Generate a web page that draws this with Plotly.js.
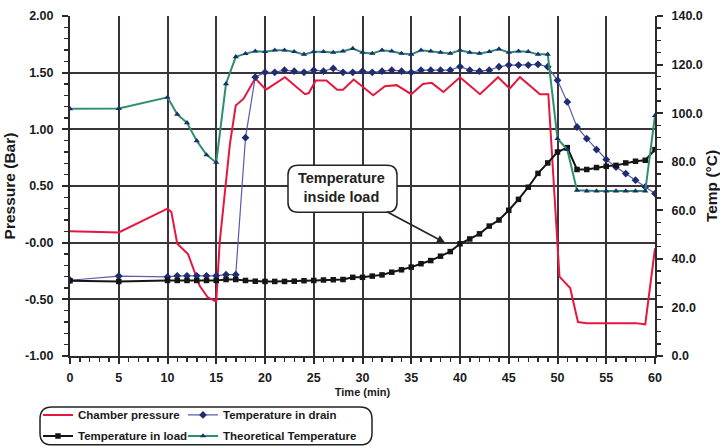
<!DOCTYPE html>
<html>
<head>
<meta charset="utf-8">
<script src="https://cdn.plot.ly/plotly-3.0.1.min.js"></script>
<style>
  html, body { margin: 0; padding: 0; background: #ffffff; }
  #chart { width: 720px; height: 446px; }
</style>
</head>
<body>
<div id="chart"></div>
<script>
// ---------- data ----------
const pressTime = [0,5,10,10.4,11.0,12.1,13.3,14.1,15.0,15.35,16.4,17.0,17.8,19.0,20.1,22.05,24.1,24.5,25.2,26.3,27.4,28.0,29.1,31.1,32.3,33.5,35.0,36.2,37.1,38.3,40.0,42.05,43.9,45.1,46.15,48.2,49.06,50.2,51.3,52.1,53,54,55,56,57,58,59.0,60];
const chamberPressure = [0.10,0.09,0.30,0.27,-0.01,-0.10,-0.38,-0.48,-0.52,0.00,0.87,1.21,1.27,1.45,1.35,1.46,1.31,1.32,1.43,1.43,1.35,1.35,1.44,1.30,1.38,1.39,1.31,1.40,1.41,1.33,1.46,1.31,1.46,1.36,1.46,1.31,1.31,-0.30,-0.40,-0.70,-0.71,-0.71,-0.71,-0.71,-0.71,-0.71,-0.72,-0.05];

const tempTime = [0,5,10,11,12,13,14,15,16,17,18,19,20,21,22,23,24,25,26,27,28,29,30,31,32,33,34,35,36,37,38,39,40,41,42,43,44,45,46,47,48,49,50,51,52,53,54,55,56,57,58,59,60];
const tempDrain = [31.2,32.9,32.6,33.0,33.0,33.0,33.0,33.0,33.5,33.5,89.9,114.8,116.8,116.8,117.7,117.3,116.8,117.7,117.3,118.4,116.8,116.8,117.3,116.8,117.3,117.7,117.3,116.8,117.7,117.7,117.7,117.7,119.1,117.7,117.3,117.7,119.1,119.8,119.8,119.8,120.1,119.1,113.5,104.6,94.3,89.5,85.0,80.9,77.8,75.1,72.4,69.6,66.9];
const tempLoad = [31.0,30.7,31.1,31.1,31.1,31.1,31.1,31.1,31.5,31.5,31.1,30.8,30.7,30.7,30.7,30.8,31.0,31.1,31.3,31.4,31.5,32.4,32.4,32.9,33.4,34.5,35.5,36.6,38.0,39.3,41.1,43.0,46.2,48.2,50.3,53.5,56.0,60.0,64.5,69.5,75.2,79.5,84.0,85.8,76.8,76.8,77.6,78.1,78.5,79.5,80.2,80.6,85.0];
const tempTheoretical = [101.8,101.9,106.5,99.5,96.0,88.6,82.8,79.7,112.1,123.2,124.5,125.5,125.3,125.9,125.9,125.3,124.2,125.3,125.3,125.0,125.5,126.6,125.0,124.6,125.9,125.5,124.6,124.2,125.9,125.5,125.0,124.6,125.9,125.0,124.6,125.3,126.4,125.0,125.5,125.3,124.2,124.2,89.5,85.0,68.2,67.9,67.9,67.9,67.9,67.9,67.9,67.9,99.0];

const seriesNames = ['Chamber pressure','Temperature in drain','Temperature in load','Theoretical Temperature'];
const pressureTickVals = [-1,-0.5,0,0.5,1,1.5,2];
const pressureTickText = ['-1.00','-0.50','-0.00','0.50','1.00','1.50','2.00'];
const annotationText = 'Temperature<br>inside load';
const annotationPoint = {x: 38.46, y: 0.0};

// ---------- geometry helpers (pixel -> paper) ----------
const PL = 70, PR = 655, PT = 15.5, PB = 356;
function pxX(x){ return (x - PL) / (PR - PL); }
function pxY(y){ return (PB - y) / (PB - PT); }
function roundRect(x0, y0, x1, y1, r){
  const P = (x, y) => pxX(x).toFixed(5) + ',' + pxY(y).toFixed(5);
  return 'M' + P(x0 + r, y0) + ' L' + P(x1 - r, y0) + ' Q' + P(x1, y0) + ' ' + P(x1, y0 + r) +
         ' L' + P(x1, y1 - r) + ' Q' + P(x1, y1) + ' ' + P(x1 - r, y1) +
         ' L' + P(x0 + r, y1) + ' Q' + P(x0, y1) + ' ' + P(x0, y1 - r) +
         ' L' + P(x0, y0 + r) + ' Q' + P(x0, y0) + ' ' + P(x0 + r, y0) + ' Z';
}

const FONT = '"Liberation Sans", Arial, sans-serif';
const GRID = '#3b333b';
const AXIS = '#2a2a2a';
const TXT = '#1a1a1a';

const traces = [
  {
    x: pressTime, y: chamberPressure, name: seriesNames[0], yaxis: 'y',
    mode: 'lines', line: {color: '#e5173f', width: 2}, legend: 'legend'
  },
  {
    x: tempTime, y: tempDrain, name: seriesNames[1], yaxis: 'y2',
    mode: 'lines+markers', line: {color: '#5a5cab', width: 1.2},
    marker: {symbol: 'diamond', size: 6, color: '#1e2c70'}, legend: 'legend2'
  },
  {
    x: tempTime, y: tempLoad, name: seriesNames[2], yaxis: 'y2',
    mode: 'lines+markers', line: {color: '#151515', width: 2},
    marker: {symbol: 'square', size: 5.5, color: '#151515'}, legend: 'legend3'
  },
  {
    x: tempTime, y: tempTheoretical, name: seriesNames[3], yaxis: 'y2',
    mode: 'lines+markers', line: {color: '#2e8f6e', width: 2},
    marker: {symbol: 'triangle-up', size: 5.5, color: '#1e2c70'}, legend: 'legend4'
  }
];

function legendAt(xpx, ypx){
  return {
    x: pxX(xpx), y: pxY(ypx), xanchor: 'left', yanchor: 'middle',
    orientation: 'h', bgcolor: 'rgba(0,0,0,0)', borderwidth: 0,
    font: {family: FONT, size: 11.5, color: TXT, weight: 'bold'}, itemwidth: 30
  };
}

const layout = {
  width: 720, height: 446,
  margin: {l: PL, r: 720 - PR, t: PT, b: 446 - PB, pad: 0, autoexpand: false},
  paper_bgcolor: '#ffffff', plot_bgcolor: '#ffffff',
  font: {family: FONT, size: 12, color: TXT},
  showlegend: true,
  legend: legendAt(38, 415),
  legend2: legendAt(183, 415),
  legend3: legendAt(38, 436),
  legend4: legendAt(183, 436),
  xaxis: {
    range: [0, 60], dtick: 5, tick0: 0,
    showgrid: true, gridcolor: GRID, gridwidth: 2,
    showline: true, linecolor: AXIS, linewidth: 2, zeroline: false,
    ticks: 'outside', ticklen: 6, tickwidth: 2, tickcolor: AXIS,
    minor: {dtick: 1, ticks: 'outside', ticklen: 4, tickwidth: 1.5, tickcolor: AXIS, showgrid: false},
    tickfont: {family: FONT, size: 12.5, color: TXT, weight: 'bold'}, ticklabelstandoff: 3,
    title: {text: 'Time (min)', font: {family: FONT, size: 11, color: TXT, weight: 'bold'}, standoff: 4}
  },
  yaxis: {
    range: [-1, 2], tickvals: pressureTickVals, ticktext: pressureTickText,
    showgrid: true, gridcolor: GRID, gridwidth: 2,
    showline: true, linecolor: AXIS, linewidth: 2, zeroline: false,
    ticks: 'outside', ticklen: 6, tickwidth: 2, tickcolor: AXIS,
    minor: {dtick: 0.1, ticks: 'outside', ticklen: 4, tickwidth: 1.5, tickcolor: AXIS, showgrid: false},
    tickfont: {family: FONT, size: 12.5, color: TXT, weight: 'bold'}, ticklabelstandoff: 6,
    title: {text: 'Pressure (Bar)', font: {family: FONT, size: 15.5, color: TXT, weight: 'bold'}, standoff: 6}
  },
  yaxis2: {
    range: [0, 140], dtick: 20, tick0: 0, tickformat: '.1f',
    overlaying: 'y', side: 'right', anchor: 'x',
    showgrid: false, showline: true, linecolor: AXIS, linewidth: 2, zeroline: false,
    ticks: 'outside', ticklen: 6, tickwidth: 2, tickcolor: AXIS,
    minor: {dtick: 5, ticks: 'outside', ticklen: 4, tickwidth: 1.5, tickcolor: AXIS, showgrid: false},
    tickfont: {family: FONT, size: 12.5, color: TXT, weight: 'bold'}, ticklabelstandoff: 6,
    title: {text: 'Temp (°C)', font: {family: FONT, size: 15.5, color: TXT, weight: 'bold'}, standoff: 4}
  },
  shapes: [
    {type: 'path', xref: 'paper', yref: 'paper', path: roundRect(40, 407, 372, 445, 12),
     line: {color: '#222', width: 1.5}, fillcolor: 'rgba(0,0,0,0)', layer: 'above'},
    {type: 'path', xref: 'paper', yref: 'paper', path: roundRect(288, 165, 397, 212, 10),
     line: {color: '#222', width: 1.5}, fillcolor: '#ffffff', layer: 'above'}
  ],
  annotations: [
    {
      x: annotationPoint.x, y: annotationPoint.y, xref: 'x', yref: 'y',
      text: annotationText, showarrow: true, ax: -103, ay: -55,
      arrowhead: 2, arrowsize: 1, arrowwidth: 1.6, arrowcolor: '#222',
      font: {family: FONT, size: 14.5, color: '#222', weight: 'bold'},
      align: 'center', borderpad: 6, bgcolor: 'rgba(0,0,0,0)'
    }
  ]
};

Plotly.newPlot('chart', traces, layout, {displayModeBar: false, staticPlot: true});
</script>
</body>
</html>
